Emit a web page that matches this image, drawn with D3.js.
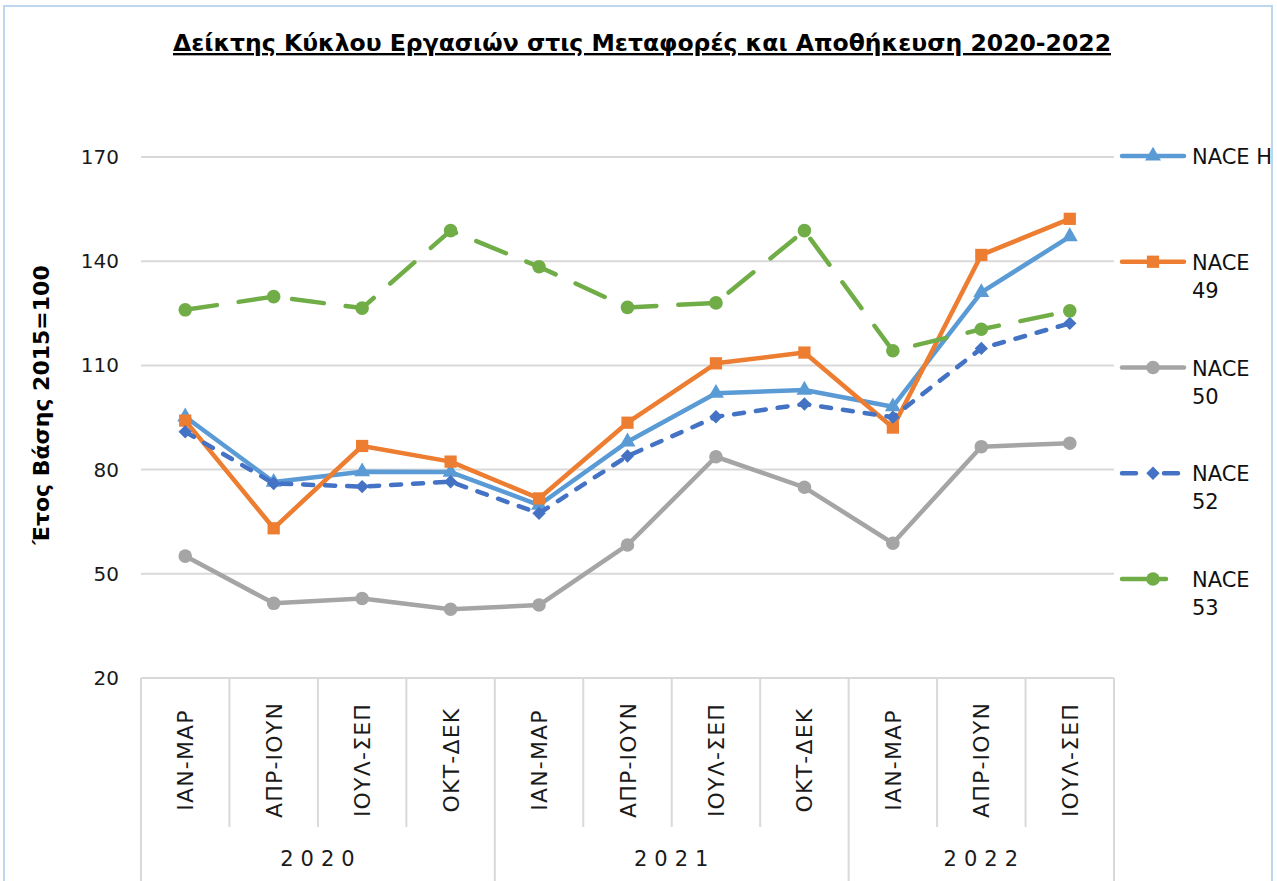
<!DOCTYPE html>
<html>
<head>
<meta charset="utf-8">
<script src="https://cdn.jsdelivr.net/npm/d3@7"></script>
<style>
  body { margin: 0; background: #fff; }
  svg { display: block; font-family: "DejaVu Sans", Verdana, sans-serif; }
</style>
</head>
<body>
<div id="chart"></div>
<script>
const width = 1277;
const height = 881;

const years = ["2020", "2021", "2022"];
const quarters = [
  ["ΙΑΝ-ΜΑΡ", "ΑΠΡ-ΙΟΥΝ", "ΙΟΥΛ-ΣΕΠ", "ΟΚΤ-ΔΕΚ"],
  ["ΙΑΝ-ΜΑΡ", "ΑΠΡ-ΙΟΥΝ", "ΙΟΥΛ-ΣΕΠ", "ΟΚΤ-ΔΕΚ"],
  ["ΙΑΝ-ΜΑΡ", "ΑΠΡ-ΙΟΥΝ", "ΙΟΥΛ-ΣΕΠ"]
];
const yTicks = [20, 50, 80, 110, 140, 170];

const naceH  = [95.2, 76.4, 79.4, 79.3, 69.8, 88.0, 102.0, 102.9, 98.1, 131.0, 147.1];
const nace49 = [94.1, 63.1, 86.8, 82.3, 71.7, 93.5, 110.6, 113.7, 92.1, 141.8, 152.2];
const nace50 = [55.1, 41.5, 42.9, 39.8, 41.0, 58.3, 83.7, 74.9, 58.8, 86.6, 87.6];
const nace52 = [90.9, 76.0, 75.1, 76.5, 67.4, 83.9, 95.2, 98.9, 95.1, 114.9, 122.1];
const nace53 = [126.0, 129.8, 126.5, 148.8, 138.4, 126.7, 128.0, 148.8, 114.2, 120.4, 125.7];

const periods = years.flatMap((yr, i) => quarters[i].map(q => ({ year: yr, quarter: q, key: yr + " " + q })));

const series = [
  { name: "NACE H",  values: naceH,  color: "#5b9bd5", dash: null,    symbol: d3.symbolTriangle, size: 110, rotate: 0 },
  { name: "NACE 49", values: nace49, color: "#ed7d31", dash: null,    symbol: d3.symbolSquare,   size: 150, rotate: 0 },
  { name: "NACE 50", values: nace50, color: "#a5a5a5", dash: null,    symbol: d3.symbolCircle,   size: 145, rotate: 0 },
  { name: "NACE 52", values: nace52, color: "#4472c4", dash: "10,12", symbol: d3.symbolSquare,   size: 90,  rotate: 45 },
  { name: "NACE 53", values: nace53, color: "#70ad47", dash: "32,22", symbol: d3.symbolCircle,   size: 145, rotate: 0 }
];

const plotLeft = 141, plotRight = 1114, plotTop = 157, plotBottom = 678;

const svg = d3.select("#chart")
  .append("svg")
  .attr("width", width)
  .attr("height", height);

// chart border
svg.append("rect")
  .attr("x", 4).attr("y", 6)
  .attr("width", 1268).attr("height", 900)
  .attr("fill", "none")
  .attr("stroke", "#bdd7ee")
  .attr("stroke-width", 2);

const x = d3.scaleBand()
  .domain(periods.map(d => d.key))
  .range([plotLeft, plotRight]);

const y = d3.scaleLinear()
  .domain([20, 170])
  .range([plotBottom, plotTop]);

// Title
svg.append("text")
  .attr("x", 642)
  .attr("y", 51)
  .attr("text-anchor", "middle")
  .style("font-size", "23.5px")
  .style("font-weight", "bold")
  .style("text-decoration", "underline")
  .text("Δείκτης Κύκλου Εργασιών στις Μεταφορές και Αποθήκευση 2020-2022");

// Gridlines
svg.append("g")
  .selectAll("line")
  .data(yTicks.filter(t => t > 20))
  .enter()
  .append("line")
  .attr("x1", plotLeft).attr("x2", plotRight)
  .attr("y1", d => y(d)).attr("y2", d => y(d))
  .attr("stroke", "#d9d9d9")
  .attr("stroke-width", 2);

// Y axis
const yAxis = svg.append("g")
  .attr("transform", `translate(${plotLeft - 22},0)`)
  .call(d3.axisLeft(y).tickValues(yTicks).tickSize(0).tickPadding(0));
yAxis.select(".domain").remove();
yAxis.selectAll("text")
  .style("font-size", "20px")
  .style("font-family", "DejaVu Sans, sans-serif")
  .attr("fill", "#1a1a1a");

svg.append("text")
  .attr("transform", "translate(49,405) rotate(-90)")
  .attr("text-anchor", "middle")
  .style("font-size", "22px")
  .style("font-weight", "bold")
  .text("Έτος Βάσης 2015=100");

// Category axis
const axisG = svg.append("g").attr("stroke", "#d9d9d9").attr("stroke-width", 2);
axisG.append("line")
  .attr("x1", plotLeft).attr("x2", plotRight)
  .attr("y1", plotBottom).attr("y2", plotBottom);

// separators between quarters (full height between years)
axisG.selectAll("line.sep")
  .data(periods.slice(1))
  .enter()
  .append("line")
  .attr("class", "sep")
  .attr("x1", d => x(d.key)).attr("x2", d => x(d.key))
  .attr("y1", plotBottom)
  .attr("y2", d => d.quarter === quarters[0][0] ? height : 827);

axisG.append("line")
  .attr("x1", plotLeft).attr("x2", plotLeft)
  .attr("y1", plotBottom).attr("y2", height);
axisG.append("line")
  .attr("x1", plotRight).attr("x2", plotRight)
  .attr("y1", plotBottom).attr("y2", height);

svg.append("g")
  .selectAll("text")
  .data(periods)
  .enter()
  .append("text")
  .attr("transform", d => `translate(${x(d.key) + x.bandwidth() / 2 + 8},760) rotate(-90)`)
  .attr("text-anchor", "middle")
  .style("font-size", "22px")
  .style("letter-spacing", "1.2px")
  .attr("fill", "#1a1a1a")
  .text(d => d.quarter);

// year labels
svg.append("g")
  .selectAll("text")
  .data(years)
  .enter()
  .append("text")
  .attr("x", d => {
    const ps = periods.filter(p => p.year === d);
    return (x(ps[0].key) + x(ps[ps.length - 1].key) + x.bandwidth()) / 2 + 3;
  })
  .attr("y", 866)
  .attr("text-anchor", "middle")
  .style("font-size", "21px")
  .style("letter-spacing", "7px")
  .attr("fill", "#1a1a1a")
  .text(d => d);

// Lines
const line = d3.line()
  .x((d, i) => x(periods[i].key) + x.bandwidth() / 2)
  .y(d => y(d));

series.forEach(s => {
  svg.append("path")
    .datum(s.values)
    .attr("fill", "none")
    .attr("stroke", s.color)
    .attr("stroke-width", 4.5)
    .attr("stroke-linejoin", "round")
    .attr("stroke-linecap", "round")
    .attr("stroke-dasharray", s.dash)
    .attr("d", line);

  svg.append("g")
    .selectAll("path")
    .data(s.values)
    .enter()
    .append("path")
    .attr("d", d3.symbol().type(s.symbol).size(s.size))
    .attr("transform", (d, i) => `translate(${x(periods[i].key) + x.bandwidth() / 2},${y(d)}) rotate(${s.rotate})`)
    .attr("fill", s.color);
});

// Legend
const legendY = d3.scalePoint()
  .domain(series.map(s => s.name))
  .range([156, 579]);

const legend = svg.append("g");
series.forEach(s => {
  const ly = legendY(s.name);
  legend.append("line")
    .attr("x1", 1122).attr("x2", 1184)
    .attr("y1", ly).attr("y2", ly)
    .attr("stroke", s.color)
    .attr("stroke-width", 4.5)
    .attr("stroke-linecap", "round")
    .attr("stroke-dasharray", s.dash === "32,22" ? "44,40" : (s.dash ? "14,28" : null));
  legend.append("path")
    .attr("d", d3.symbol().type(s.symbol).size(s.size))
    .attr("transform", `translate(1153,${ly}) rotate(${s.rotate})`)
    .attr("fill", s.color);

  const t = legend.append("text")
    .attr("x", 1192)
    .attr("y", ly + 8)
    .style("font-size", "21px")
    .attr("fill", "#111");
  // wrap words into the narrow legend column
  const words = s.name.split(" ");
  let tspan = t.append("tspan").attr("x", 1192).text(words[0]);
  let current = words[0];
  words.slice(1).forEach(w => {
    tspan.text(current + " " + w);
    if (tspan.node().getComputedTextLength() > 82) {
      tspan.text(current);
      tspan = t.append("tspan").attr("x", 1192).attr("dy", 28).text(w);
      current = w;
    } else {
      current = current + " " + w;
    }
  });
});
</script>
</body>
</html>
